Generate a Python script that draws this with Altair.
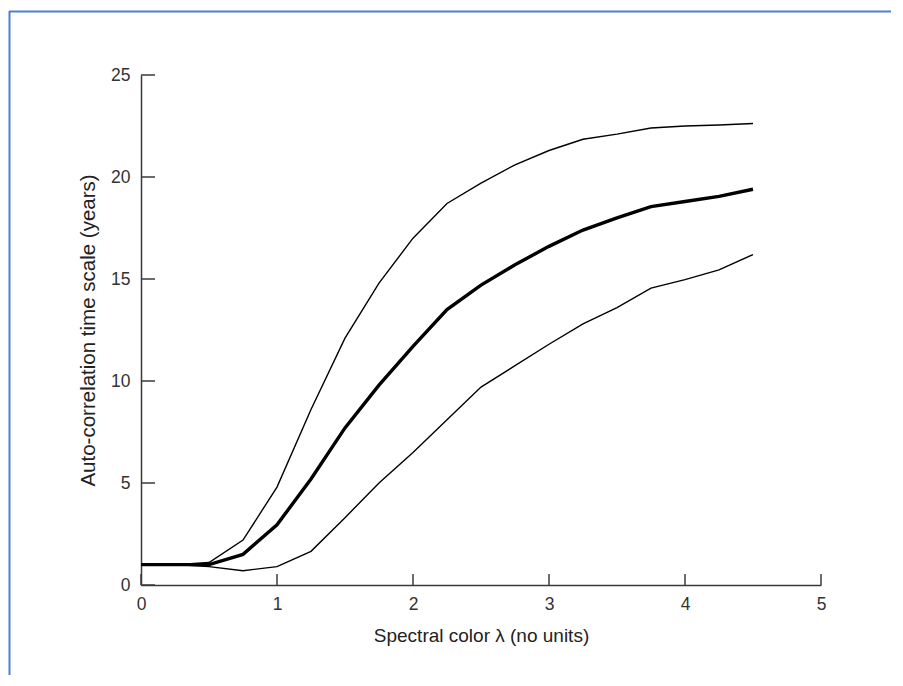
import altair as alt
import pandas as pd

# Spectral colour values (x) and the three curves
lam = [0, 0.25, 0.5, 0.75, 1.0, 1.25, 1.5, 1.75, 2.0, 2.25, 2.5, 2.75, 3.0, 3.25, 3.5, 3.75, 4.0, 4.25, 4.5]
upper = [1, 1, 1.1, 2.2, 4.8, 8.6, 12.1, 14.8, 17.0, 18.7, 19.7, 20.6, 21.3, 21.85, 22.1, 22.4, 22.5, 22.55, 22.62]
median = [1, 1, 1.0, 1.5, 2.95, 5.2, 7.7, 9.8, 11.7, 13.5, 14.7, 15.7, 16.6, 17.4, 18.0, 18.55, 18.8, 19.05, 19.4]
lower = [1, 1, 0.9, 0.7, 0.9, 1.65, 3.3, 5.0, 6.5, 8.1, 9.7, 10.75, 11.8, 12.8, 13.6, 14.55, 14.97, 15.45, 16.2]

x_ticks = [0, 1, 2, 3, 4, 5]
y_ticks = [0, 5, 10, 15, 20, 25]

W, H = 680, 510

rows = []
for name, vals in (("upper", upper), ("median", median), ("lower", lower)):
    for xv, yv in zip(lam, vals):
        rows.append({"lam": xv, "tau": yv, "series": name})
df = pd.DataFrame(rows)

xscale = alt.Scale(domain=[0, 5], nice=False, zero=False)
yscale = alt.Scale(domain=[0, 25], nice=False)

font = "Liberation Sans"

x_axis = alt.Axis(values=x_ticks, format="d", title="Spectral color λ (no units)",
                  labelPadding=10, titlePadding=14, labelFlush=False, titleFontSize=19)
y_axis = alt.Axis(values=y_ticks, format="d", title="Auto-correlation time scale (years)",
                  labelPadding=11, titlePadding=12, titleFontSize=20.5)

base = alt.Chart(df)
thin = base.transform_filter(alt.datum.series != "median").mark_line(
    color="black", strokeWidth=1.4).encode(
    x=alt.X("lam:Q", scale=xscale, axis=x_axis),
    y=alt.Y("tau:Q", scale=yscale, axis=y_axis),
    detail="series:N")
thick = base.transform_filter(alt.datum.series == "median").mark_line(
    color="black", strokeWidth=3.4).encode(
    x=alt.X("lam:Q", scale=xscale, axis=x_axis),
    y=alt.Y("tau:Q", scale=yscale, axis=y_axis))

xt = alt.Chart(pd.DataFrame({"lam": x_ticks})).mark_rule(color="#3a3a3a", strokeWidth=1.5).encode(
    x=alt.X("lam:Q", scale=xscale, axis=x_axis), y=alt.value(H), y2=alt.value(H - 11)
)
yt = alt.Chart(pd.DataFrame({"tau": y_ticks})).mark_rule(color="#3a3a3a", strokeWidth=1.5).encode(
    y=alt.Y("tau:Q", scale=yscale, axis=y_axis), x=alt.value(0), x2=alt.value(14)
)

# decorative frame (top and left edges of the picture)
frame_top = alt.Chart(pd.DataFrame({"a": [0]})).mark_rule(color="#4f7fd6", strokeWidth=2).encode(
    x=alt.value(-132), x2=alt.value(900), y=alt.value(-63.5)
)
frame_left = alt.Chart(pd.DataFrame({"a": [0]})).mark_rule(color="#4f7fd6", strokeWidth=2).encode(
    x=alt.value(-131.5), y=alt.value(-64), y2=alt.value(700)
)

chart = alt.layer(thin, thick, xt, yt, frame_top, frame_left).properties(
    width=W, height=H,
    padding={"left": 133, "top": 67, "right": 70, "bottom": 90},
    autosize=alt.AutoSizeParams(type="none"),
    background="white",
).configure_view(stroke=None).configure_axis(
    grid=False,
    domainColor="#3a3a3a",
    domainWidth=1.5,
    tickSize=0,
    labelColor="#333333",
    labelFont=font,
    labelFontSize=17.5,
    titleFont=font,
    titleFontWeight="normal",
    titleColor="#222222",
)

chart.save("out.html", embed_options={"renderer": "svg", "actions": False})
